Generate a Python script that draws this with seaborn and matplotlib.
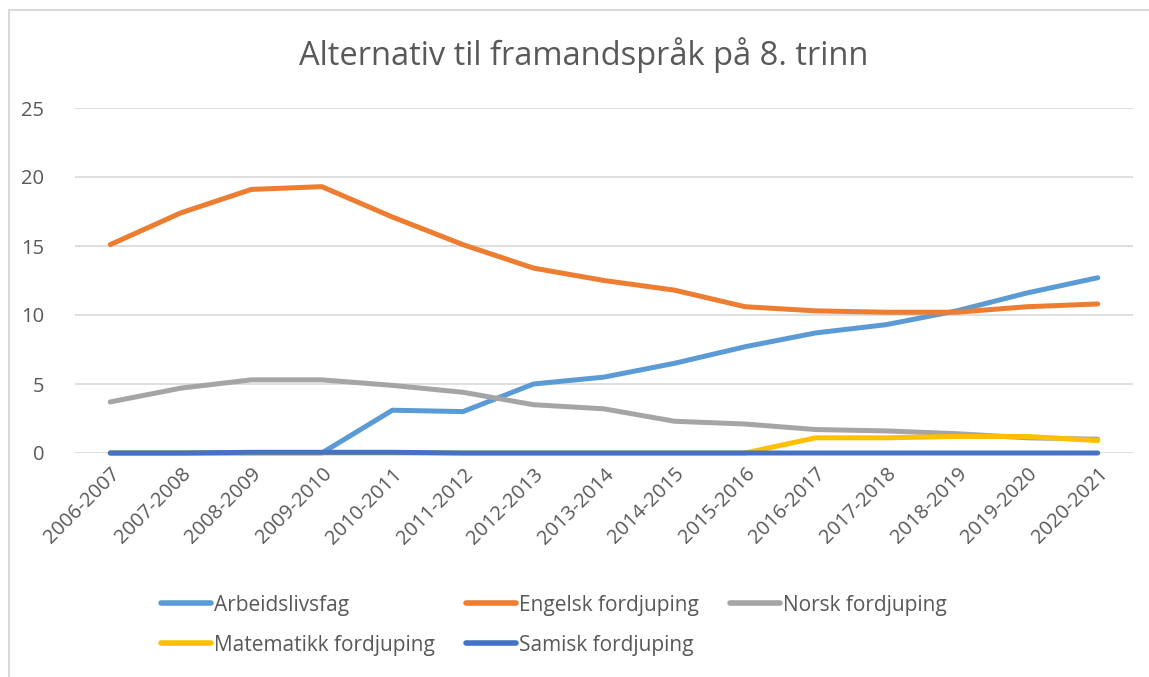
import matplotlib
matplotlib.use("Agg")
import matplotlib.pyplot as plt
import seaborn as sns
import pandas as pd
from matplotlib.patches import Rectangle

years = ["2006-2007", "2007-2008", "2008-2009", "2009-2010", "2010-2011", "2011-2012",
         "2012-2013", "2013-2014", "2014-2015", "2015-2016", "2016-2017", "2017-2018",
         "2018-2019", "2019-2020", "2020-2021"]
arbeidslivsfag = [0, 0, 0, 0, 3.1, 3.0, 5.0, 5.5, 6.5, 7.7, 8.7, 9.3, 10.3, 11.6, 12.7]
engelsk = [15.1, 17.4, 19.1, 19.3, 17.1, 15.1, 13.4, 12.5, 11.8, 10.6, 10.3, 10.2, 10.2, 10.6, 10.8]
norsk = [3.7, 4.7, 5.3, 5.3, 4.9, 4.4, 3.5, 3.2, 2.3, 2.1, 1.7, 1.6, 1.4, 1.1, 1.0]
matematikk = [0, 0, 0, 0, 0, 0, 0, 0, 0, 0, 1.1, 1.1, 1.2, 1.2, 0.9]
samisk = [0, 0, 0.05, 0.05, 0.05, 0, 0, 0, 0, 0, 0, 0, 0, 0, 0]

series = {
    "Arbeidslivsfag": arbeidslivsfag,
    "Engelsk fordjuping": engelsk,
    "Norsk fordjuping": norsk,
    "Matematikk fordjuping": matematikk,
    "Samisk fordjuping": samisk,
}
colors = ["#5B9BD5", "#ED7D31", "#A5A5A5", "#FFC000", "#4472C4"]

rows = []
for name, vals in series.items():
    for i, (y, v) in enumerate(zip(years, vals)):
        rows.append({"Skoleår": y, "idx": i, "Verdi": v, "Serie": name})
df = pd.DataFrame(rows)

sns.set_theme(style="white")
plt.rcParams['font.family'] = ['Open Sans', 'DejaVu Sans']

fig = plt.figure(figsize=(11.49, 6.77), dpi=100)
ax = fig.add_axes([75/1149, 1-453/677, (1133-75)/1149, (453-108)/677])

sns.lineplot(data=df, x="idx", y="Verdi", hue="Serie", palette=colors, linewidth=3.6,
             ax=ax, legend=True, solid_capstyle="round")
for ln in ax.get_lines():
    ln.set_clip_on(False)

ax.set_xlim(-0.5, len(years) - 0.5)
ax.set_ylim(0, 25)
ax.set_yticks([0, 5, 10, 15, 20, 25])
ax.set_xticks(range(len(years)))
ax.set_xticklabels(years, rotation=45, ha="right", rotation_mode="anchor")
ax.tick_params(axis="both", colors="#595959", labelsize=14.5, length=0)
ax.tick_params(axis="x", pad=8)
ax.tick_params(axis="y", pad=22)
ax.grid(axis="y", color="#D9D9D9", linewidth=1.2)
ax.set_axisbelow(True)
for s in ax.spines.values():
    s.set_visible(False)
ax.set_xlabel("")
ax.set_ylabel("")

handles, labels = ax.get_legend_handles_labels()
ax.get_legend().remove()
for h in handles:
    h.set_linewidth(4)
    h.set_solid_capstyle("round")
order = [0, 3, 1, 4, 2]
fig.legend([handles[i] for i in order], [labels[i] for i in order], ncol=3, loc="upper left",
           bbox_to_anchor=(142/1149, 1-576/677),
           frameon=False, fontsize=15, labelcolor="#595959", handlelength=2.4,
           handletextpad=0.15, columnspacing=1.5, labelspacing=0.9)

fig.text(584/1149, 1-55/677, "Alternativ til framandspråk på 8. trinn", ha="center", va="center",
         fontsize=23.5, color="#595959")

fig.patches.append(Rectangle((9/1149, -0.01), 1.0, 1-10/677 + 0.01, transform=fig.transFigure,
                             fill=False, edgecolor="#D9D9D9", linewidth=1.5))

fig.savefig("out.png", dpi=100)
